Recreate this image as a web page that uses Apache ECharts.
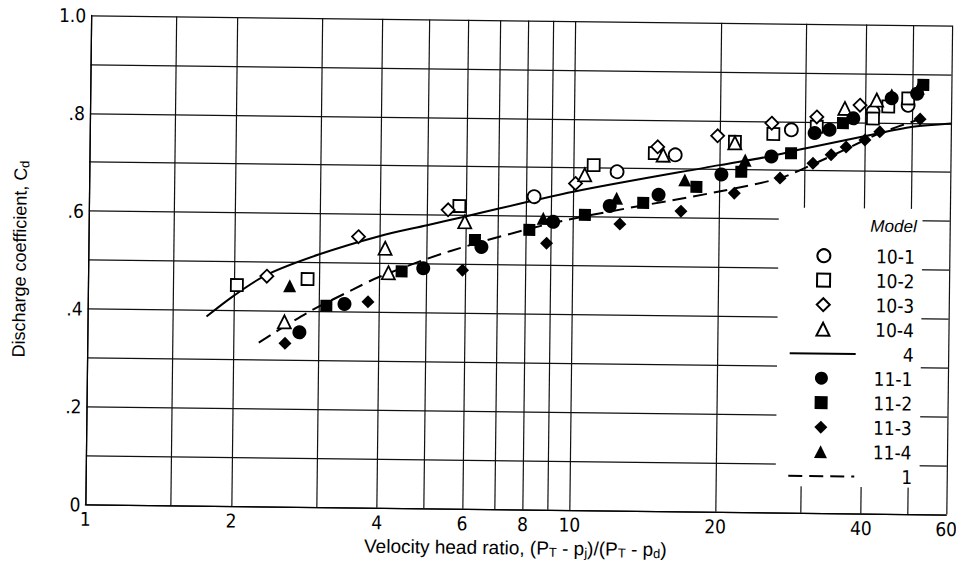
<!DOCTYPE html>
<html><head><meta charset="utf-8">
<script src="https://cdn.jsdelivr.net/npm/echarts@6/dist/echarts.min.js"></script>
<style>
html,body{margin:0;padding:0;background:#fff;overflow:hidden}
#chart{width:959px;height:570px;transform:rotate(0.68deg);transform-origin:50% 50%}
</style></head><body><div id="chart"></div>
<script>
// ---- axis ticks ----
const xGridValues = [1, 1.5, 2, 3, 4, 5, 6, 7, 8, 9, 10, 20, 30, 40, 50, 60];
const xTickValues = [1, 2, 4, 6, 8, 10, 20, 40, 60];
const xTickLabels = ['1', '2', '4', '6', '8', '10', '20', '40', '60'];
const yTickValues = [0, 0.2, 0.4, 0.6, 0.8, 1.0];
const yTickLabels = ['0', '.2', '.4', '.6', '.8', '1.0'];

// ---- legend groups (in display order) ----
const legendOpen = ['10-1', '10-2', '10-3', '10-4'];
const legendSolid = ['4'];
const legendFilled = ['11-1', '11-2', '11-3', '11-4'];
const legendDashed = ['1'];

// ---- data [velocity head ratio, discharge coefficient] ----
const model10_1 = [[8.3,0.640],[12.3,0.693],[16.2,0.729],[28.1,0.783],[41.4,0.822],[48.9,0.836]];
const model10_2 = [[2.03,0.452],[2.84,0.466],[5.82,0.619],[11.0,0.706],[14.7,0.732],[21.5,0.757],[25.8,0.774],[31.7,0.79],[41.4,0.808],[44.5,0.833],[48.9,0.85]];
const model10_3 = [[2.34,0.471],[3.61,0.554],[5.52,0.611],[10.1,0.668],[14.9,0.745],[19.8,0.769],[25.6,0.796],[31.7,0.81],[38.9,0.835]];
const model10_4 = [[2.55,0.378],[4.10,0.531],[4.17,0.481],[5.98,0.587],[10.55,0.686],[15.3,0.728],[21.5,0.755],[36.2,0.828],[42.1,0.846]];
const model4 = [[1.76,0.387],[2.0,0.43],[2.34,0.474],[3.0,0.517],[4.0,0.556],[5.0,0.579],[6.0,0.598],[10.0,0.651],[20,0.709],[25,0.727],[30,0.745],[40,0.772],[50,0.792],[60,0.80]];
const model11_1 = [[2.74,0.357],[3.39,0.416],[4.92,0.491],[6.48,0.536],[9.10,0.589],[11.9,0.623],[15.0,0.647],[20.2,0.69],[25.6,0.728],[31.4,0.777],[33.7,0.784],[37.7,0.808],[45.2,0.85],[51.0,0.86]];
const model11_2 = [[3.11,0.412],[4.44,0.484],[6.28,0.55],[8.13,0.572],[10.58,0.604],[13.95,0.63],[17.95,0.664],[22.2,0.696],[28.1,0.735],[35.9,0.798],[52.5,0.878]];
const model11_3 = [[2.56,0.334],[3.79,0.421],[5.93,0.488],[8.83,0.545],[12.5,0.586],[16.7,0.614],[21.5,0.652],[26.7,0.684],[31.2,0.715],[34.0,0.733],[36.5,0.749],[39.9,0.764],[42.8,0.781],[51.8,0.808]];
const model11_4 = [[2.61,0.452],[8.68,0.596],[12.29,0.639],[16.98,0.678],[22.6,0.72],[45.2,0.857],[51.3,0.871]];
const model1 = [[2.26,0.335],[2.83,0.396],[3.53,0.446],[4.01,0.473],[5.6,0.527],[9.4,0.59],[20,0.655],[26.7,0.684],[31.2,0.713],[36.5,0.745],[42.8,0.778],[51.8,0.808]];

// legend backdrop region (data coords)
const legendBox = [[26.6, 0.054], [52.7, 0.624]];

const NARROW = "'Liberation Sans Narrow','DejaVu Sans Condensed','Arial Narrow','Liberation Sans',sans-serif";
const SANS = "'Liberation Sans',Arial,sans-serif";
const INK = '#000';

function pts(name, data, symbol, size, filled) {
  return {
    name, type: 'scatter', data, symbol, symbolSize: size, symbolKeepAspect: true,
    itemStyle: filled ? {color: INK, borderWidth: 0, opacity: 1} : {color: '#fff', borderColor: INK, borderWidth: 1.8, opacity: 1},
    z: filled ? 4 : 3, silent: true
  };
}

// legend layout: symbol column centre x, label right edge, first row centre, row pitch
const LEG = {cx: 822.5, right: 913.5, row0: 251.6, pitch: 24.5, lineW: 66, symW: 13, textH: 20};
function legendBlock(names, firstRow, isLine) {
  const iw = isLine ? LEG.lineW : LEG.symW;
  const left = LEG.cx - iw / 2;
  const w = LEG.right - (left + iw + 5);
  const o = {
    orient: 'vertical', left: left, top: LEG.row0 + LEG.pitch * firstRow - LEG.textH / 2, padding: 0,
    itemWidth: iw, itemHeight: 13, itemGap: LEG.pitch - LEG.textH, selectedMode: false,
    data: names,
    formatter: n => '{r|' + n + '}',
    textStyle: {
      color: INK, fontFamily: NARROW, fontSize: 19,
      rich: {r: {width: w, align: 'right', fontFamily: NARROW, fontSize: 19, height: LEG.textH, lineHeight: LEG.textH, color: INK}}
    }
  };
  if (isLine) o.itemStyle = {opacity: 0};
  return o;
}

const chart = echarts.init(document.getElementById('chart'), null, {renderer: 'svg'});
chart.setOption({
  animation: false,
  backgroundColor: '#fff',
  grid: {left: 88, right: 10, top: 20, bottom: 61, outerBoundsMode: 'none'},
  title: {
    text: 'Model', right: 43, top: 212, padding: 0,
    textStyle: {fontFamily: SANS, fontSize: 17, fontStyle: 'italic', fontWeight: 'normal', color: INK, lineHeight: 19}
  },
  legend: [
    legendBlock(legendOpen, 0, false),
    legendBlock(legendSolid, 4, true),
    legendBlock(legendFilled, 5, false),
    legendBlock(legendDashed, 9, true)
  ],
  xAxis: {
    type: 'log', logBase: 10, min: 1, max: 60,
    axisLine: {show: true, lineStyle: {color: INK, width: 1.3}},
    axisTick: {show: false, customValues: xGridValues},
    minorTick: {show: false}, minorSplitLine: {show: false},
    splitLine: {show: true, lineStyle: {color: '#111', width: 1.2}},
    axisLabel: {
      customValues: xTickValues,
      formatter: v => { const i = xTickValues.findIndex(t => Math.abs(t - v) < 1e-6); return i >= 0 ? xTickLabels[i] : ''; },
      margin: 5, fontSize: 19, fontFamily: NARROW, color: INK
    },
    name: 'Velocity head ratio, (P{s|T} - p{s|j})/(P{s|T} - p{s|d})',
    nameLocation: 'middle', nameGap: 26,
    nameTextStyle: {fontFamily: SANS, fontSize: 19, color: INK,
      rich: {s: {fontFamily: SANS, fontSize: 13, color: INK, verticalAlign: 'bottom', padding: [8, 0, 0, 0]}}}
  },
  yAxis: {
    type: 'value', min: 0, max: 1, interval: 0.1,
    axisLine: {show: true, lineStyle: {color: INK, width: 1.3}},
    axisTick: {show: false},
    splitLine: {show: true, lineStyle: {color: '#111', width: 1.2}},
    axisLabel: {
      formatter: v => { const i = yTickValues.findIndex(t => Math.abs(t - v) < 1e-6); return i >= 0 ? yTickLabels[i] : ''; },
      margin: 5, fontSize: 19, fontFamily: NARROW, color: INK
    },
    name: 'Discharge coefficient, C{s|d}',
    nameLocation: 'middle', nameGap: 58, nameRotate: 90,
    nameTextStyle: {fontFamily: SANS, fontSize: 18, color: INK,
      rich: {s: {fontFamily: SANS, fontSize: 13, color: INK, verticalAlign: 'bottom', padding: [8, 0, 0, 0]}}}
  },
  series: [
    pts('10-1', model10_1, 'circle', 13, false),
    pts('10-2', model10_2, 'rect', 12, false),
    pts('10-3', model10_3, 'diamond', 13, false),
    pts('10-4', model10_4, 'triangle', 13, false),
    {
      name: '4', type: 'line', data: model4, symbol: 'none', smooth: 0.3, silent: true,
      itemStyle: {color: INK}, lineStyle: {color: INK, width: 2}, z: 2,
      markArea: {silent: true, itemStyle: {color: '#fff'}, data: [[{coord: legendBox[0]}, {coord: legendBox[1]}]]}
    },
    pts('11-1', model11_1, 'circle', 14, true),
    pts('11-2', model11_2, 'rect', 12, true),
    pts('11-3', model11_3, 'diamond', 13, true),
    pts('11-4', model11_4, 'triangle', 13, true),
    {
      name: '1', type: 'line', data: model1, symbol: 'none', smooth: 0.3, silent: true,
      itemStyle: {color: INK}, lineStyle: {color: INK, width: 2, type: [14, 7]}, z: 2
    }
  ]
});
</script></body></html>
